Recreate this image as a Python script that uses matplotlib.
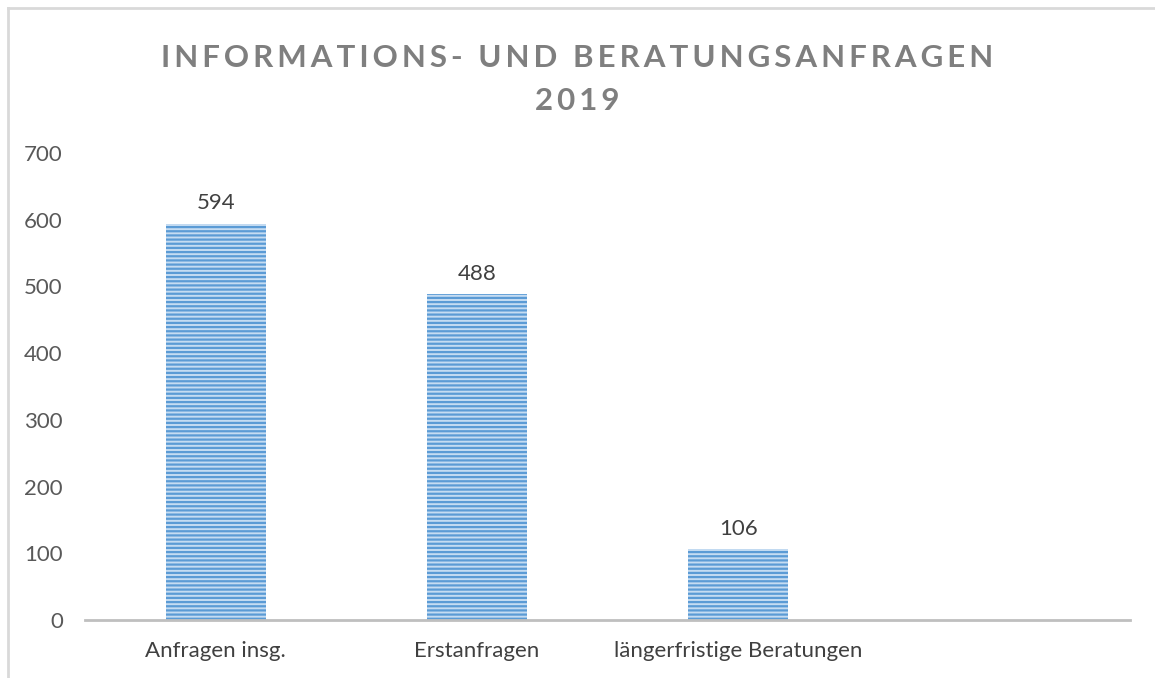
import matplotlib
matplotlib.use("Agg")
import matplotlib.pyplot as plt
from matplotlib.lines import Line2D

# data
categories = ["Anfragen insg.", "Erstanfragen", "längerfristige Beratungen", ""]
values = [594, 488, 106, None]
yticks = [0, 100, 200, 300, 400, 500, 600, 700]
title_lines = ["INFORMATIONS- UND BERATUNGSANFRAGEN", "2019"]

plt.rcParams['font.family'] = ['Lato', 'DejaVu Sans']
plt.rcParams['hatch.linewidth'] = 1.6
plt.rcParams['hatch.color'] = '#5b9bd5'

fig = plt.figure(figsize=(11.55, 6.78), dpi=100)
ax = fig.add_axes([85/1155, 58/678, 1045/1155, 467/678])

xs = list(range(len(categories)))
for x, v in zip(xs, values):
   if v is None:
      continue
   ax.bar(x, v, width=0.383, color='#c5dcf2', edgecolor='#5b9bd5',
          hatch='----', linewidth=0)
   ax.text(x, v + 16, str(v), ha='center', va='bottom', fontsize=16, color='#404040')

ax.set_xlim(-0.5, len(categories) - 0.5)
ax.set_ylim(0, 700)
ax.set_yticks(yticks)
ax.set_yticklabels([str(t) for t in yticks], fontsize=16, color='#595959')
ax.set_xticks(xs)
ax.set_xticklabels(categories, fontsize=16, color='#404040')
ax.tick_params(axis='both', length=0)
ax.tick_params(axis='y', pad=16)
ax.tick_params(axis='x', pad=15)
for s in ['top', 'right', 'left']:
   ax.spines[s].set_visible(False)
ax.spines['bottom'].set_color('#bfbfbf')
ax.spines['bottom'].set_linewidth(2)

# spaced out title (excel style letter spacing)
sp = '\u200a'
fig.text(0.5, 1 - 58/678, (sp * 2).join(title_lines[0]), ha='center', va='center',
         fontsize=22.5, fontweight='bold', color='#7f7f7f')
fig.text(0.5, 1 - 101/678, (sp * 2).join(title_lines[1]), ha='center', va='center',
         fontsize=22.5, fontweight='bold', color='#7f7f7f')

# chart frame (only top and left visible in the crop)
fig.add_artist(Line2D([8/1155, 1], [1 - 8/678, 1 - 8/678], transform=fig.transFigure,
                      color='#d9d9d9', linewidth=2))
fig.add_artist(Line2D([8/1155, 8/1155], [0, 1 - 8/678], transform=fig.transFigure,
                      color='#d9d9d9', linewidth=2))

fig.savefig("out.png", dpi=100)
